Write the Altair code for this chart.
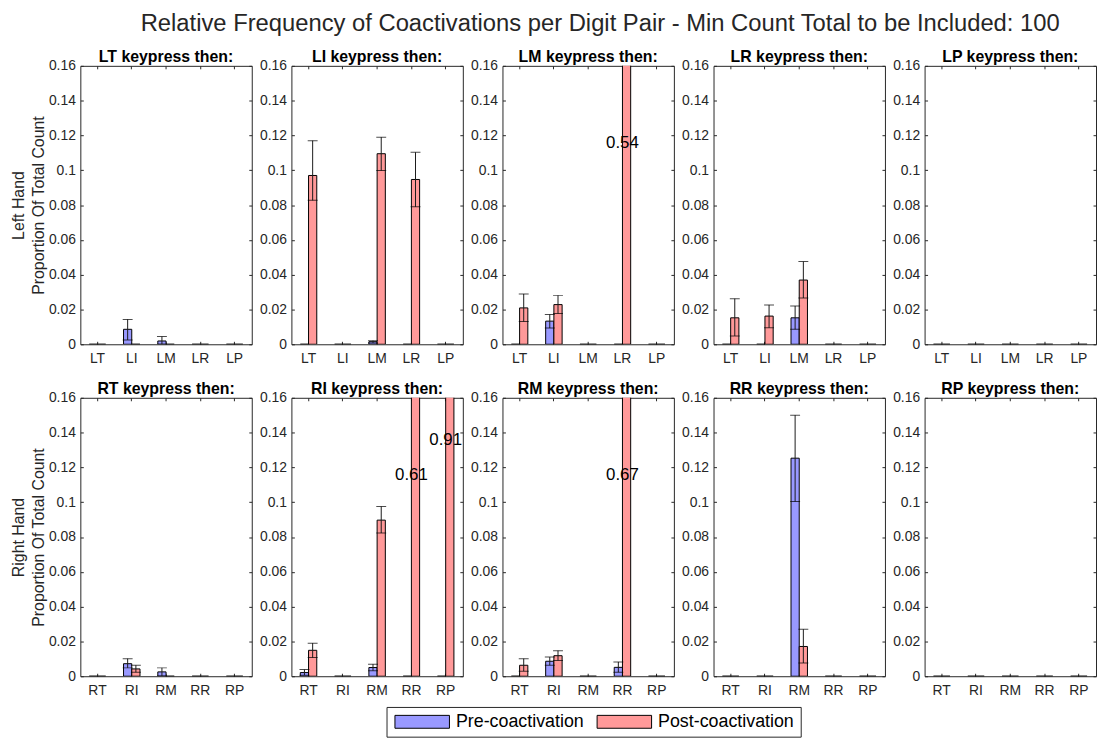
import altair as alt
import pandas as pd

FONT = "Liberation Sans"
INK = "#262626"

main_title = "Relative Frequency of Coactivations per Digit Pair - Min Count Total to be Included: 100"
panel_keys = ["LT", "LI", "LM", "LR", "LP", "RT", "RI", "RM", "RR", "RP"]
left_targets = ["LT", "LI", "LM", "LR", "LP"]
right_targets = ["RT", "RI", "RM", "RR", "RP"]
series_names = ["Pre-coactivation", "Post-coactivation"]
series_colors = ["#9999FF", "#FF9999"]
row_titles = [["Left Hand", "Proportion Of Total Count"], ["Right Hand", "Proportion Of Total Count"]]
y_ticks = [0, 0.02, 0.04, 0.06, 0.08, 0.1, 0.12, 0.14, 0.16]

N = None
pre_mean = [
    [0, 0.0086, 0.0019, 0, 0],
    [0, 0, 0.0015, 0, 0],
    [0, 0.0133, 0, 0, 0],
    [0, 0, 0.0152, 0, 0],
    [0, 0, 0, 0, 0],
    [0, 0.0072, 0.0025, 0, 0],
    [0.0021, 0, 0.0050, 0, 0],
    [0, 0.0086, 0, 0.0051, 0],
    [0, 0, 0.1253, 0, 0],
    [0, 0, 0, 0, 0],
]
pre_lo = [
    [N, 0.0025, 0.0, N, N],
    [N, N, 0.0008, N, N],
    [N, 0.0093, N, N, N],
    [N, N, 0.0086, N, N],
    [N, N, N, N, N],
    [N, 0.0048, 0.0002, N, N],
    [0.0006, N, 0.0032, N, N],
    [N, 0.0063, N, 0.0023, N],
    [N, N, 0.1004, N, N],
    [N, N, N, N, N],
]
pre_hi = [
    [N, 0.0143, 0.0044, N, N],
    [N, N, 0.0021, N, N],
    [N, 0.0171, N, N, N],
    [N, N, 0.0220, N, N],
    [N, N, N, N, N],
    [N, 0.0101, 0.0048, N, N],
    [0.0038, N, 0.0069, N, N],
    [N, 0.0110, N, 0.0082, N],
    [N, N, 0.1500, N, N],
    [N, N, N, N, N],
]
post_mean = [
    [0, 0, 0, 0, 0],
    [0.0970, 0, 0.1095, 0.0947, 0],
    [0.0209, 0.0228, 0, 0.54, 0],
    [0.0152, 0.0162, 0.0369, 0, 0],
    [0, 0, 0, 0, 0],
    [0, 0.0042, 0, 0, 0],
    [0.0149, 0, 0.0897, 0.61, 0.91],
    [0.0063, 0.0118, 0, 0.67, 0],
    [0, 0, 0.0171, 0, 0],
    [0, 0, 0, 0, 0],
]
post_lo = [
    [N, N, N, N, N],
    [0.0827, N, 0.0998, 0.0790, N],
    [0.0131, 0.0177, N, N, N],
    [0.0048, 0.0095, 0.0266, N, N],
    [N, N, N, N, N],
    [N, 0.0023, N, N, N],
    [0.0107, N, 0.0823, N, N],
    [0.0029, 0.0091, N, N, N],
    [N, N, 0.0076, N, N],
    [N, N, N, N, N],
]
post_hi = [
    [N, N, N, N, N],
    [0.1170, N, 0.1190, 0.1103, N],
    [0.0289, 0.0281, N, N, N],
    [0.0262, 0.0226, 0.0475, N, N],
    [N, N, N, N, N],
    [N, 0.0063, N, N, N],
    [0.0190, N, 0.0975, N, N],
    [0.0101, 0.0147, N, N, N],
    [N, N, 0.0270, N, N],
    [N, N, N, N, N],
]
# y position of the value labels written on bars that run off the top
over_label_y = [
    [N, N, N, N, N],
    [N, N, N, N, N],
    [N, N, N, 0.1155, N],
    [N, N, N, N, N],
    [N, N, N, N, N],
    [N, N, N, N, N],
    [N, N, N, 0.1155, 0.1355],
    [N, N, N, 0.1155, N],
    [N, N, N, N, N],
    [N, N, N, N, N],
]

Y_MAX = 0.16
W, H = 173, 281


def panel(i):
    row = 0 if i < 5 else 1
    col = i % 5
    targets = left_targets if row == 0 else right_targets
    recs, labs = [], []
    for j, t in enumerate(targets):
        for s, mean, lo, hi in ((series_names[0], pre_mean, pre_lo, pre_hi),
                                (series_names[1], post_mean, post_lo, post_hi)):
            recs.append({"target": t, "series": s, "value": mean[i][j],
                         "lo": lo[i][j], "hi": hi[i][j]})
        if over_label_y[i][j] is not None:
            labs.append({"target": t, "ly": over_label_y[i][j],
                         "txt": f"{post_mean[i][j]:.2f}"})
    df = pd.DataFrame(recs)
    err = df.dropna(subset=["lo", "hi"])

    xscale = alt.Scale(domain=targets, paddingInner=0.52, paddingOuter=0.26)
    yscale = alt.Scale(domain=[0, Y_MAX], nice=False, zero=True)
    xoff = alt.XOffset("series:N", scale=alt.Scale(domain=series_names, paddingInner=0, paddingOuter=0))

    x_bottom = alt.Axis(orient="bottom", offset=-3, tickSize=3, domain=False, title=None,
                        labelAngle=0, labelFontSize=14, labelFont=FONT, labelColor=INK,
                        tickColor=INK, labelPadding=7)
    y_left = alt.Axis(orient="left", offset=-3, tickSize=3, domain=False, values=y_ticks,
                      format="~g",
                      labelFontSize=14, labelFont=FONT, labelColor=INK, tickColor=INK,
                      labelPadding=5, grid=False,
                      title=row_titles[row] if col == 0 else None,
                      titleFontSize=16, titleFont=FONT, titleColor=INK,
                      titleFontWeight="normal", titlePadding=2, titleLineHeight=20)
    x_top = alt.Axis(orient="top", offset=-3, tickSize=3, domain=False, labels=False,
                     title=None, tickColor=INK)
    y_right = alt.Axis(orient="right", offset=-3, tickSize=3, domain=False, labels=False,
                       title=None, tickColor=INK, values=y_ticks, grid=False)

    color = alt.Color("series:N",
                      scale=alt.Scale(domain=series_names, range=series_colors),
                      legend=alt.Legend(title=None, orient="none", direction="horizontal",
                                        legendX=309, legendY=647,
                                        symbolType="M-4.23,-1H4.23V1H-4.23Z", symbolSize=169,
                                        symbolOffset=21, symbolStrokeColor="#000000",
                                        symbolStrokeWidth=1, symbolOpacity=1,
                                        labelFontSize=18, labelFont=FONT,
                                        labelColor="#000000", columnPadding=10, labelOffset=25,
                                        padding=6, strokeColor=INK, fillColor="white"))

    bars = alt.Chart(df).mark_bar(clip=True, stroke="#000000", strokeWidth=1, opacity=1).encode(
        x=alt.X("target:N", scale=xscale, sort=targets, axis=x_bottom),
        xOffset=xoff,
        y=alt.Y("value:Q", scale=yscale, axis=y_left),
        color=color,
    )
    frame = alt.Chart(df).mark_tick(opacity=0, clip=True).encode(
        x=alt.X("target:N", scale=xscale, sort=targets, axis=x_top),
        y=alt.Y("value:Q", scale=yscale, axis=y_right),
    )
    layers = [bars, frame]
    if len(err):
        rule = alt.Chart(err).mark_rule(color="#1a1a1a", strokeWidth=1, clip=True).encode(
            x=alt.X("target:N", scale=xscale, sort=targets, axis=None),
            xOffset=xoff,
            y=alt.Y("lo:Q", scale=yscale, axis=None),
            y2="hi:Q",
        )
        cap_lo = alt.Chart(err).mark_tick(color="#000000", size=10, thickness=1, clip=True,
                                          orient="horizontal").encode(
            x=alt.X("target:N", scale=xscale, sort=targets, axis=None),
            xOffset=xoff,
            y=alt.Y("lo:Q", scale=yscale, axis=None),
        )
        cap_hi = cap_lo.encode(y=alt.Y("hi:Q", scale=yscale, axis=None))
        layers += [rule, cap_lo, cap_hi]
    if labs:
        txt = alt.Chart(pd.DataFrame(labs)).mark_text(fontSize=17, font=FONT, color="#000000",
                                                      baseline="middle", align="center").encode(
            x=alt.X("target:N", scale=xscale, sort=targets, axis=None),
            y=alt.Y("ly:Q", scale=yscale, axis=None),
            text="txt:N",
        )
        layers.append(txt)
    return alt.layer(*layers).resolve_axis(x="independent", y="independent").properties(
        width=W, height=H,
        title=alt.TitleParams(f"{panel_keys[i]} keypress then:", fontSize=16, font=FONT,
                              fontWeight="bold", color="#000000", offset=0, dy=6),
    )


chart = alt.concat(*[panel(i) for i in range(10)], columns=5,
                   spacing={"row": 54, "column": 40}, bounds="flush").properties(
    title=alt.TitleParams(main_title, fontSize=24, font=FONT, fontWeight="normal",
                          color=INK, anchor="middle", dx=47, offset=13),
    padding={"left": 2, "top": 0, "right": 0, "bottom": 0},
).configure_view(stroke=INK, strokeWidth=1).configure_axis(grid=False)

chart.save("out.html", embed_options={"renderer": "svg", "actions": False})
